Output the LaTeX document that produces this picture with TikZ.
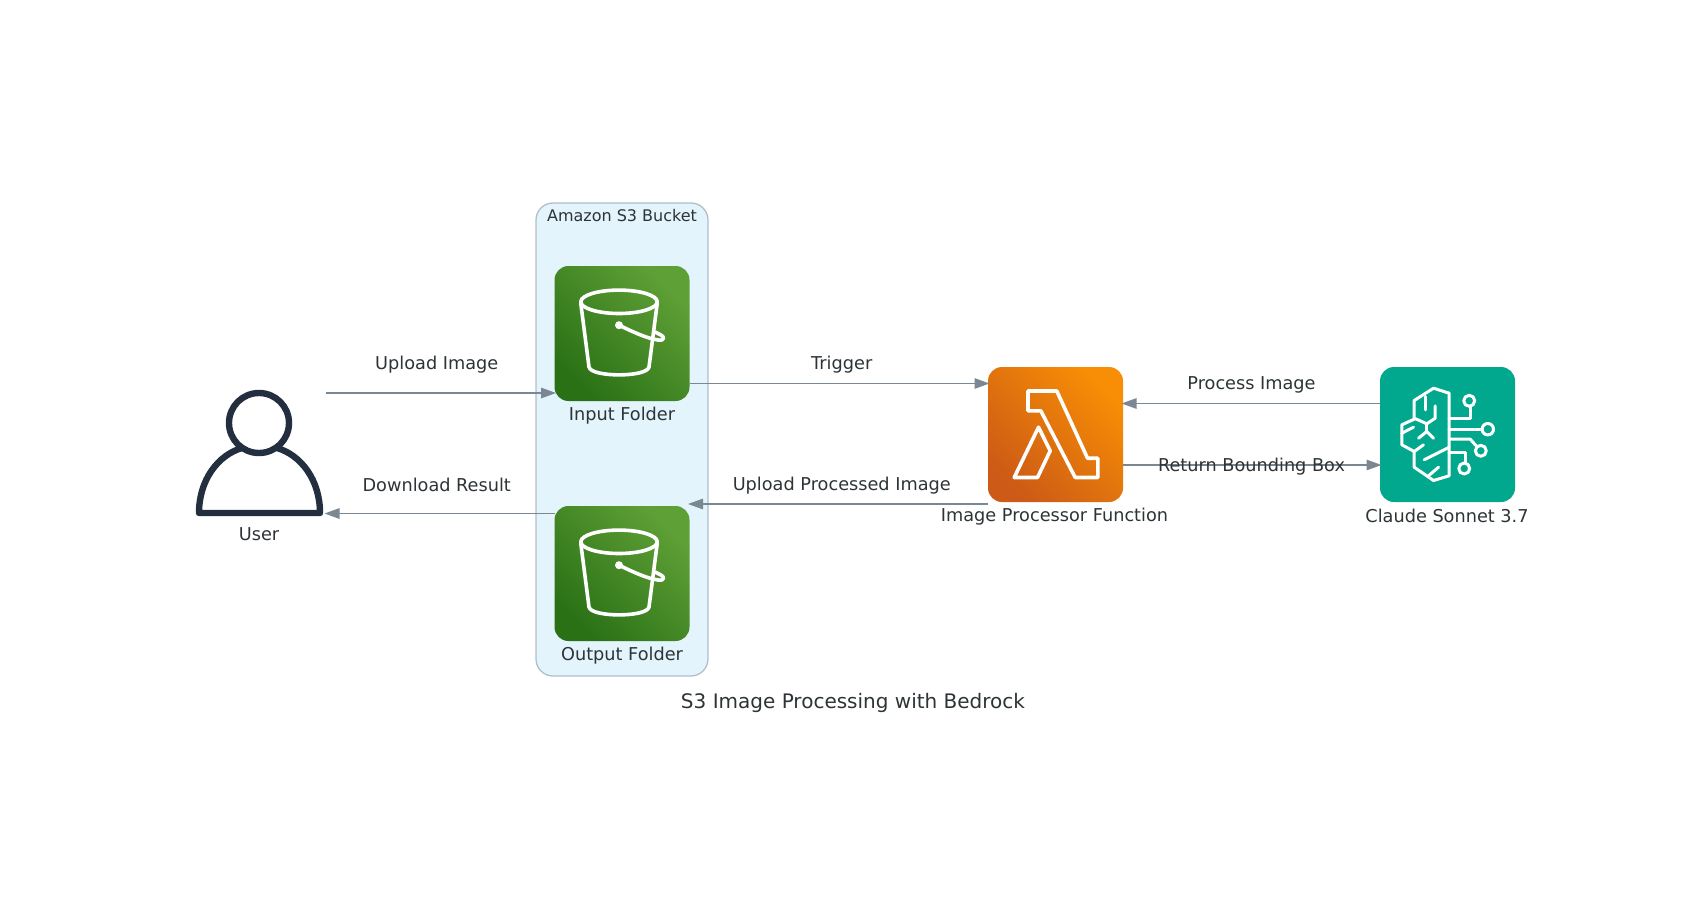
\documentclass[tikz,border=0pt]{standalone}
\usepackage{fontspec}
\setmainfont{DejaVu Sans}
\usetikzlibrary{arrows.meta}

\definecolor{inkText}{HTML}{2D3436}
\definecolor{inkEdge}{HTML}{7B8894}
\definecolor{inkUser}{HTML}{232F3E}
\definecolor{inkFrame}{HTML}{B0BFCB}
\definecolor{bucketFill}{HTML}{E3F4FC}
\definecolor{s3Low}{HTML}{2A7116}
\definecolor{s3High}{HTML}{5FA036}
\definecolor{procLow}{HTML}{CD5A16}
\definecolor{procHigh}{HTML}{F78E05}
\definecolor{claudeFill}{HTML}{01A88D}

\tikzset{
  icon/.style={minimum size=135pt, inner sep=0pt, outer sep=0pt, rounded corners=14pt},
  gradient/.style={icon, shading=axis, shading angle=-45},
  label/.style={text=inkText, font=\fontsize{17.7}{20}\selectfont, inner sep=0pt},
  flow/.style={draw=inkEdge, line width=1.3pt, shorten >=-1.5pt, -{Triangle[length=15pt,width=10.5pt]}},
  glyph/.style={draw=white, line width=3.6pt, line join=round, line cap=round},
  fineglyph/.style={glyph, line width=3pt},
  bucket/.pic={
    \draw [glyph] (-3,-31.7) ellipse (38.2 and 11.7);
    \draw [glyph] (-41.2,-30) -- (-33,33.5) .. controls (-31,44) and (25,44) .. (27,33.5) -- (35.2,-30);
    \fill [white] (-3,-8.3) circle (4);
    \draw [glyph] (-3,-8.3) .. controls (10,-2) and (25,5) .. (36,6.5)
                  .. controls (43,7.5) and (43,3) .. (38,1) -- (33,-1.5);
  },
  lambda/.pic={
    \draw [glyph] (-27.5,-43.5) -- (1.3,-43.5) -- (32,23.7) -- (42.3,23.7) -- (42.3,43)
                  -- (19.7,43) -- (-14.7,-23.7) -- (-27.5,-23.7) -- cycle;
    \draw [glyph] (-17,-7.3) -- (-5.3,16.3) -- (-18,43) -- (-41.3,43) -- cycle;
  },
  brain/.pic={
    \draw [fineglyph] (1.7,-41.3) -- (-14,-46.3) -- (-33.3,-34) -- (-33.3,-15.3) -- (-45.7,-9.7)
                  -- (-45.7,10.3) -- (-33.3,17) -- (-33.3,32.7) -- (-14,46) -- (1.7,41.3) -- cycle;
    \draw [fineglyph] (-22.3,-38) -- (-22.3,-24.7);
    \draw [fineglyph] (-12.3,-28.7) -- (-12.3,-16.3) -- (-20.7,-10.7) -- (-33.3,-16.3);
    \draw [fineglyph] (-29,3.7) -- (-20.7,-3) -- (-14,3.7);
    \draw [fineglyph] (-20.7,-10.7) -- (-20.7,-3);
    \draw [fineglyph] (-45.7,-1.3) -- (-34,-7.3);
    \draw [fineglyph] (-33.3,17) -- (-24,10.3);
    \draw [fineglyph] (-23.3,25.3) -- (1.7,12.7);
    \draw [fineglyph] (-19,41.3) -- (-9,32.7);
    \draw [fineglyph] (1.7,-16.3) -- (22.7,-16.3) -- (22.7,-28);
    \draw [fineglyph] (21.7,-33.7) circle (5.5);
    \draw [fineglyph] (1.7,-5.3) -- (34.3,-5.3);
    \draw [fineglyph] (40.3,-5.3) circle (5.7);
    \draw [fineglyph] (1.7,4.7) -- (22.7,4.7) -- (29.3,12);
    \draw [fineglyph] (33.3,16.3) circle (5.5);
    \draw [fineglyph] (1.7,18) -- (17.7,18) -- (17.7,28);
    \draw [fineglyph] (16.7,34) circle (5.5);
  },
}

\begin{document}
\begin{tikzpicture}[x=1pt, y=-1pt]
\useasboundingbox (0,0) rectangle (1707,912); % adjust bounding box

\node (bucketbox) at (622,439.5) [minimum width=172pt, minimum height=473pt, inner sep=0pt,
    rounded corners=17pt, fill=bucketFill, draw=inkFrame, line width=1.3pt] {};
\node (bucketlabel) at (622,216) [label, font=\fontsize{16}{18}\selectfont] {Amazon S3 Bucket};

\node (s3in) at (622,333.5) [bottom color=s3Low, top color=s3High, gradient] {};
\node (s3out) at (622,573.5) [bottom color=s3Low, top color=s3High, gradient] {};
\node (proc) at (1055.5,434.5) [bottom color=procLow, top color=procHigh, gradient] {};
\node (claude) at (1447.5,434.5) [icon, fill=claudeFill] {};
\node (user) at (259.5,460) [minimum size=133pt, inner sep=0pt, outer sep=0pt] {};

\path (s3in) pic {bucket};
\path (s3out) pic {bucket};
\path (proc) pic {lambda};
\path (claude) pic {brain};

\draw [inkUser, line width=6.4pt] (259,423) circle (30);
\draw [inkUser, line width=6.4pt, line join=round] (242,448) .. controls (218,455) and (199,480) .. (199,513)
      -- (320,513) .. controls (320,480) and (301,455) .. (277,448);

\node (s3inlabel) at (622,416) [label] {Input Folder};
\node (s3outlabel) at (622,656) [label] {Output Folder};
\node (proclabel) at (1054.5,517) [label] {Image Processor Function};
\node (claudelabel) at (1447,516) [label] {Claude Sonnet 3.7};
\node (userlabel) at (259,534) [label] {User};

\draw [flow] ([yshift=67pt]user.east) -- ([yshift=-59.5pt]s3in.west) node [label, midway, xshift=-3.5pt, yshift=28pt] {Upload Image};
\draw [flow] ([yshift=60pt]s3out.west) -- ([yshift=-53.5pt]user.east) node [label, midway, xshift=-3.5pt, yshift=29pt] {Download Result};
\draw [flow] ([yshift=-50pt]s3in.east) -- ([yshift=51pt]proc.west) node [label, midway, xshift=3pt, yshift=19pt] {Trigger};
\draw [flow] ([yshift=-69.5pt]proc.west) -- ([yshift=69.5pt]s3out.east) node [label, midway, xshift=3pt, yshift=18.5pt] {Upload Processed Image};
\draw [flow] ([yshift=31pt]claude.west) -- ([yshift=31pt]proc.east) node [label, midway, yshift=18.5pt] {Process Image};
\draw [flow] ([yshift=-30.5pt]proc.east) -- ([yshift=-30.5pt]claude.west) node [label, midway, yshift=-1.5pt] {Return Bounding Box};

\node (title) at (853,703) [text=inkText, font=\fontsize{20}{23}\selectfont, inner sep=0pt] {S3 Image Processing with Bedrock};
\end{tikzpicture}
\end{document}
